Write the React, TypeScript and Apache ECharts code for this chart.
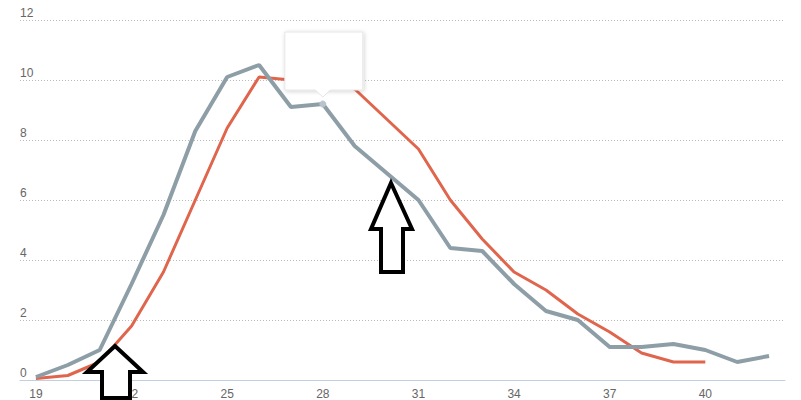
import React, { useEffect, useRef } from "react";
import * as echarts from "echarts";

const categories = ["19","20","21","22","23","24","25","26","27","28","29","30","31","32","33","34","35","36","37","38","39","40","41","42"];
const grayValues = [0.1,0.5,1.0,3.2,5.5,8.3,10.1,10.5,9.1,9.2,7.8,6.9,6.0,4.4,4.3,3.2,2.3,2.0,1.1,1.1,1.2,1.0,0.6,0.8];
const redValues: (number | null)[] = [0.05,0.15,0.6,1.8,3.6,6.0,8.4,10.1,10.0,10.0,9.7,8.7,7.7,6.0,4.7,3.6,3.0,2.2,1.6,0.9,0.6,0.6,null,null];
const yTicks = { min: 0, max: 12, interval: 2 };
const highlightIndex = 9;

const FONT = "'Liberation Sans', Arial, sans-serif";

export default function App() {
  const ref = useRef<HTMLDivElement>(null);
  useEffect(() => {
    if (!ref.current) return;
    document.body.style.margin = "0";
    document.body.style.overflow = "hidden";
    const chart = echarts.init(ref.current, null, { renderer: "svg" });
    const grayData = grayValues.map((v, i) =>
      i === highlightIndex
        ? { value: v, symbol: "circle", symbolSize: 6, itemStyle: { color: "#b9c3c9", borderColor: "#b9c3c9" } }
        : v
    );
    chart.setOption({
      animation: false,
      grid: { left: 20, right: 16, top: 20, bottom: 19, containLabel: false },
      xAxis: {
        type: "category",
        data: categories,
        boundaryGap: true,
        axisLine: { lineStyle: { color: "#c0d0e0", width: 1 } },
        axisTick: { show: false },
        axisLabel: { interval: 2, color: "#666", fontSize: 12, fontFamily: FONT, margin: 8 },
        splitLine: { show: false },
      },
      yAxis: {
        type: "value",
        min: yTicks.min,
        max: yTicks.max,
        interval: yTicks.interval,
        axisLine: { show: false },
        axisTick: { show: false },
        axisLabel: {
          inside: true,
          margin: 0,
          verticalAlign: "bottom",
          padding: [0, 0, 1, 0],
          color: "#666",
          fontSize: 12,
          fontFamily: FONT,
        },
        splitLine: { lineStyle: { color: "#bbbbbb", type: [1, 2], width: 1 } },
      },
      series: [
        {
          type: "line",
          data: redValues,
          symbol: "none",
          lineStyle: { color: "#e0654d", width: 3 },
          z: 2,
        },
        {
          type: "line",
          data: grayData,
          symbol: "none",
          showSymbol: true,
          lineStyle: { color: "#8e9ea7", width: 4 },
          z: 3,
        },
      ],
    });

    const p = chart.convertToPixel({ xAxisIndex: 0, yAxisIndex: 0 }, [highlightIndex, grayValues[highlightIndex]]) as number[];
    const px = p[0], py = p[1];
    const arrowStyle = { fill: "#fff", stroke: "#000", lineWidth: 4, lineJoin: "miter" };
    chart.setOption({
      graphic: [
        {
          type: "rect",
          z: 100,
          shape: { x: px - 38, y: py - 72, width: 78, height: 58 },
          style: { fill: "#fff", stroke: "#e6e6e6", lineWidth: 1, shadowBlur: 4, shadowColor: "rgba(0,0,0,0.18)", shadowOffsetX: 1, shadowOffsetY: 1 },
        },
        {
          type: "polygon",
          z: 101,
          shape: { points: [[px - 8, py - 14.5], [px + 8, py - 14.5], [px, py - 7]] },
          style: { fill: "#fff", stroke: "#e6e6e6", lineWidth: 1 },
        },
        {
          type: "rect",
          z: 102,
          shape: { x: px - 8, y: py - 16, width: 16, height: 2 },
          style: { fill: "#fff" },
        },
        {
          type: "polygon",
          z: 110,
          shape: { points: [[115, 346], [143, 372], [130, 372], [130, 398], [102, 398], [102, 372], [87, 372]] },
          style: arrowStyle,
        },
        {
          type: "polygon",
          z: 110,
          shape: { points: [[391, 183], [412, 229], [403, 229], [403, 272], [381, 272], [381, 229], [371, 229]] },
          style: arrowStyle,
        },
      ],
    });
    return () => chart.dispose();
  }, []);
  return <div ref={ref} style={{ position: "absolute", left: 0, top: 0, width: 801, height: 400 }} />;
}
